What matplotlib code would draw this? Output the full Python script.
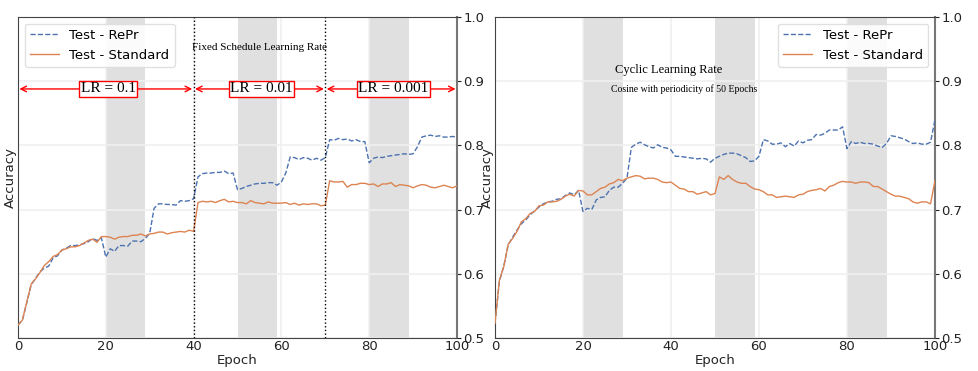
import matplotlib.pyplot as plt
import numpy as np

epochs = np.arange(101)

# fixed schedule (left panel)
fixed_repr = [
    0.520, 0.528, 0.555, 0.583, 0.593, 0.603, 0.609, 0.612, 0.625, 0.628,
    0.637, 0.640, 0.644, 0.644, 0.645, 0.647, 0.650, 0.655, 0.652, 0.656,
    0.626, 0.639, 0.635, 0.644, 0.644, 0.643, 0.651, 0.651, 0.650, 0.655,
    0.663, 0.702, 0.709, 0.709, 0.708, 0.708, 0.707, 0.714, 0.713, 0.714,
    0.717, 0.751, 0.756, 0.757, 0.757, 0.758, 0.758, 0.760, 0.756, 0.757,
    0.731, 0.733, 0.736, 0.738, 0.740, 0.741, 0.741, 0.742, 0.742, 0.738,
    0.743, 0.757, 0.782, 0.781, 0.778, 0.781, 0.780, 0.777, 0.780, 0.777,
    0.781, 0.809, 0.808, 0.811, 0.809, 0.810, 0.807, 0.809, 0.806, 0.806,
    0.773, 0.780, 0.782, 0.781, 0.783, 0.784, 0.785, 0.786, 0.787, 0.786,
    0.787, 0.798, 0.813, 0.815, 0.816, 0.814, 0.815, 0.813, 0.813, 0.814,
    0.813,
]
fixed_std = [
    0.520, 0.528, 0.556, 0.584, 0.592, 0.602, 0.613, 0.619, 0.627, 0.630,
    0.637, 0.639, 0.642, 0.642, 0.644, 0.648, 0.652, 0.654, 0.649, 0.658,
    0.658, 0.657, 0.654, 0.657, 0.658, 0.658, 0.660, 0.660, 0.662, 0.659,
    0.662, 0.663, 0.665, 0.665, 0.662, 0.664, 0.665, 0.666, 0.665, 0.668,
    0.666, 0.711, 0.713, 0.712, 0.713, 0.711, 0.714, 0.716, 0.712, 0.713,
    0.711, 0.711, 0.709, 0.714, 0.711, 0.710, 0.709, 0.712, 0.710, 0.710,
    0.710, 0.711, 0.708, 0.710, 0.707, 0.709, 0.708, 0.709, 0.709, 0.706,
    0.707, 0.745, 0.743, 0.743, 0.744, 0.735, 0.739, 0.739, 0.741, 0.741,
    0.739, 0.740, 0.736, 0.740, 0.740, 0.742, 0.736, 0.739, 0.738, 0.737,
    0.734, 0.737, 0.739, 0.738, 0.735, 0.734, 0.736, 0.738, 0.736, 0.734,
    0.737,
]

# cyclic schedule (right panel)
cyclic_repr = [
    0.523, 0.588, 0.612, 0.645, 0.657, 0.668, 0.678, 0.684, 0.692, 0.698,
    0.704, 0.709, 0.712, 0.713, 0.716, 0.717, 0.722, 0.726, 0.723, 0.730,
    0.697, 0.702, 0.700, 0.715, 0.719, 0.720, 0.730, 0.735, 0.735, 0.741,
    0.749, 0.797, 0.802, 0.805, 0.801, 0.798, 0.796, 0.801, 0.797, 0.796,
    0.793, 0.783, 0.783, 0.782, 0.781, 0.780, 0.779, 0.780, 0.779, 0.774,
    0.780, 0.783, 0.786, 0.788, 0.788, 0.787, 0.784, 0.781, 0.775, 0.776,
    0.783, 0.809, 0.807, 0.802, 0.802, 0.804, 0.798, 0.803, 0.799, 0.807,
    0.804, 0.808, 0.809, 0.817, 0.816, 0.819, 0.824, 0.824, 0.824, 0.829,
    0.795, 0.806, 0.803, 0.805, 0.803, 0.803, 0.802, 0.799, 0.797, 0.803,
    0.815, 0.814, 0.812, 0.810, 0.806, 0.803, 0.804, 0.802, 0.802, 0.805,
    0.840,
]
cyclic_std = [
    0.523, 0.590, 0.611, 0.646, 0.655, 0.666, 0.681, 0.686, 0.694, 0.697,
    0.706, 0.707, 0.712, 0.712, 0.713, 0.716, 0.721, 0.724, 0.721, 0.730,
    0.729, 0.723, 0.723, 0.728, 0.733, 0.735, 0.740, 0.742, 0.747, 0.745,
    0.749, 0.751, 0.753, 0.752, 0.748, 0.749, 0.749, 0.747, 0.743, 0.742,
    0.743, 0.738, 0.733, 0.732, 0.728, 0.728, 0.724, 0.726, 0.728, 0.723,
    0.725, 0.751, 0.747, 0.753, 0.747, 0.743, 0.741, 0.741, 0.736, 0.732,
    0.731, 0.728, 0.723, 0.723, 0.719, 0.720, 0.721, 0.720, 0.719, 0.723,
    0.724, 0.728, 0.730, 0.731, 0.733, 0.729, 0.736, 0.738, 0.742, 0.744,
    0.743, 0.743, 0.741, 0.743, 0.743, 0.742, 0.736, 0.736, 0.732, 0.728,
    0.724, 0.721, 0.721, 0.719, 0.717, 0.712, 0.710, 0.712, 0.712, 0.709,
    0.745,
]

shaded = [(20, 29), (50, 59), (80, 89)]
lr_bounds = [0, 40, 70, 100]
lr_labels = ["LR = 0.1", "LR = 0.01", "LR = 0.001"]

blue = "#4c72b0"
orange = "#dd8452"
serif = ["Liberation Serif", "DejaVu Serif"]

fig = plt.figure(figsize=(9.79, 3.71), dpi=100)
ax1 = fig.add_axes([0.0184, 0.089, 0.4484, 0.865])
ax2 = fig.add_axes([0.5056, 0.089, 0.4494, 0.865])

for ax, repr_, std in ((ax1, fixed_repr, fixed_std), (ax2, cyclic_repr, cyclic_std)):
    ax.set_facecolor("white")
    for a, b in shaded:
        ax.axvspan(a, b, color="#e0e0e0", zorder=0, lw=0)
    ax.grid(True, color="#f0f0f0", lw=1.2, zorder=0.5)
    ax.set_axisbelow(True)
    ax.plot(epochs, repr_, "--", color=blue, lw=1.0, label="Test - RePr", zorder=3)
    ax.plot(epochs, std, "-", color=orange, lw=1.0, label="Test - Standard", zorder=3)
    ax.set_xlim(0, 100)
    ax.set_ylim(0.5, 1.0)
    ax.set_xticks([0, 20, 40, 60, 80, 100])
    ax.set_yticks([0.5, 0.6, 0.7, 0.8, 0.9, 1.0])
    ax.yaxis.tick_right()
    ax.yaxis.set_label_position("left")
    ax.tick_params(axis="both", labelsize=9.5, colors="#222222", length=3, pad=1.5)
    ax.tick_params(axis="x", length=0, pad=1.5)
    ax.set_xlabel("Epoch", fontsize=9.5, color="#222222", labelpad=1)
    ax.set_ylabel("Accuracy", fontsize=9.5, color="#222222", labelpad=1)
    for side in ("left", "bottom", "top"):
        ax.spines[side].set_color("#444444")
    ax.spines["right"].set_color("#777777")
    ax.spines["right"].set_linewidth(1.5)

ax1.legend(loc="upper left", fontsize=9.5, frameon=True, framealpha=0.9,
           edgecolor="#dddddd", handlelength=2.2)
ax2.legend(loc="upper right", fontsize=9.5, frameon=True, framealpha=0.9,
           edgecolor="#dddddd", handlelength=2.2)

# fixed schedule annotations
for x in lr_bounds[1:3]:
    ax1.axvline(x, color="black", ls=":", lw=1.0, zorder=4)
ax1.text(55, 0.953, "Fixed Schedule Learning Rate", family=serif, fontsize=8,
         ha="center", va="center")
arrow_y = 0.888
for (a, b), lab in zip(zip(lr_bounds[:-1], lr_bounds[1:]), lr_labels):
    ax1.annotate("", xy=(b, arrow_y), xytext=(a, arrow_y),
                 arrowprops=dict(arrowstyle="<->", color="red", lw=1.0,
                                 shrinkA=1, shrinkB=1), zorder=5)
    ax1.text((a + b) / 2 + 0.5, arrow_y, lab, family=serif, fontsize=11,
             ha="center", va="center", zorder=6,
             bbox=dict(boxstyle="square,pad=0.1", fc="white", ec="red", lw=1.0))

# cyclic annotations
ax2.text(39.5, 0.917, "Cyclic Learning Rate", family=serif, fontsize=9,
         ha="center", va="center")
ax2.text(43, 0.888, "Cosine with periodicity of 50 Epochs", family=serif,
         fontsize=7, ha="center", va="center")

fig.savefig("out.png", dpi=100)
